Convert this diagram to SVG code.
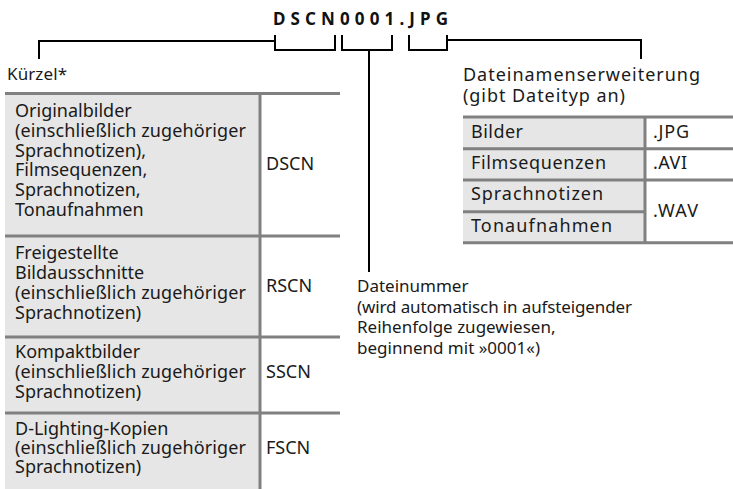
<svg xmlns="http://www.w3.org/2000/svg" width="733" height="489" viewBox="0 0 733 489">
<style>
text{font-family:"Noto Sans","Open Sans","DejaVu Sans",sans-serif;font-size:18px;fill:#1a1a1a}
.title{font-weight:bold;font-size:17px;fill:#111}
.s17{font-size:17px}
.grid{stroke:#808080;stroke-width:3;fill:none}
.cell{fill:#e6e6e6}
.br{stroke:#000;stroke-width:2;fill:none}
</style>
<rect width="733" height="489" fill="#fff"/>
<g id="title"><text class="title" x="273" y="25" textLength="175" lengthAdjust="spacing">DSCN0001.JPG</text></g>
<g id="connectors">
<path class="br" d="M275,35 V50 H335 V35"/>
<path class="br" d="M342,35 V50 H392 V35"/>
<path class="br" d="M409,35 V50 H447 V35"/>
<path class="br" d="M275,41 H39 V59"/>
<path class="br" d="M369,50 V272"/>
<path class="br" d="M447,40 H641 V59"/>
</g>
<g id="kuerzel">
<text class="s17" x="7" y="80" textLength="60" lengthAdjust="spacing">Kürzel*</text>
<rect class="cell" x="5" y="92" width="255" height="397"/>
<path class="grid" d="M5,93.5 H340 M5,236 H340 M5,337 H340 M5,413 H340 M260,92 V489"/>
<text x="15" y="117">Originalbilder</text>
<text x="15" y="137" textLength="231" lengthAdjust="spacing">(einschließlich zugehöriger</text>
<text x="15" y="156.5">Sprachnotizen),</text>
<text x="15" y="176">Filmsequenzen,</text>
<text x="15" y="196">Sprachnotizen,</text>
<text x="15" y="216">Tonaufnahmen</text>
<text x="266" y="170">DSCN</text>
<text x="15" y="259">Freigestellte</text>
<text x="15" y="279">Bildausschnitte</text>
<text x="15" y="299" textLength="231" lengthAdjust="spacing">(einschließlich zugehöriger</text>
<text x="15" y="319">Sprachnotizen)</text>
<text x="266" y="292">RSCN</text>
<text x="15" y="358">Kompaktbilder</text>
<text x="15" y="378" textLength="231" lengthAdjust="spacing">(einschließlich zugehöriger</text>
<text x="15" y="398">Sprachnotizen)</text>
<text x="266" y="378">SSCN</text>
<text x="15" y="435">D-Lighting-Kopien</text>
<text x="15" y="454" textLength="231" lengthAdjust="spacing">(einschließlich zugehöriger</text>
<text x="15" y="473">Sprachnotizen)</text>
<text x="266" y="454">FSCN</text>
</g>
<g id="dateinummer">
<text class="s17" x="357" y="292">Dateinummer</text>
<text class="s17" x="357" y="312.5" textLength="275" lengthAdjust="spacing">(wird automatisch in aufsteigender</text>
<text class="s17" x="357" y="333">Reihenfolge zugewiesen,</text>
<text class="s17" x="357" y="353.5">beginnend mit »0001«)</text>
</g>
<g id="erweiterung">
<text x="463" y="81" textLength="237" lengthAdjust="spacing">Dateinamenserweiterung</text>
<text x="463" y="102" textLength="162" lengthAdjust="spacing">(gibt Dateityp an)</text>
<rect class="cell" x="463" y="117" width="182" height="126"/>
<path class="grid" d="M463,117 H733 M463,148.7 H733 M463,180 H733 M463,211.7 H645 M463,242.7 H733 M645,117 V242.7"/>
<text x="471" y="138" textLength="52" lengthAdjust="spacing">Bilder</text>
<text x="653" y="138" textLength="36" lengthAdjust="spacing">.JPG</text>
<text x="471" y="169" textLength="135" lengthAdjust="spacing">Filmsequenzen</text>
<text x="653" y="169" textLength="34" lengthAdjust="spacing">.AVI</text>
<text x="471" y="200" textLength="132" lengthAdjust="spacing">Sprachnotizen</text>
<text x="471" y="231.7" textLength="141" lengthAdjust="spacing">Tonaufnahmen</text>
<text x="653" y="216.7" textLength="45" lengthAdjust="spacing">.WAV</text>
</g>
</svg>
